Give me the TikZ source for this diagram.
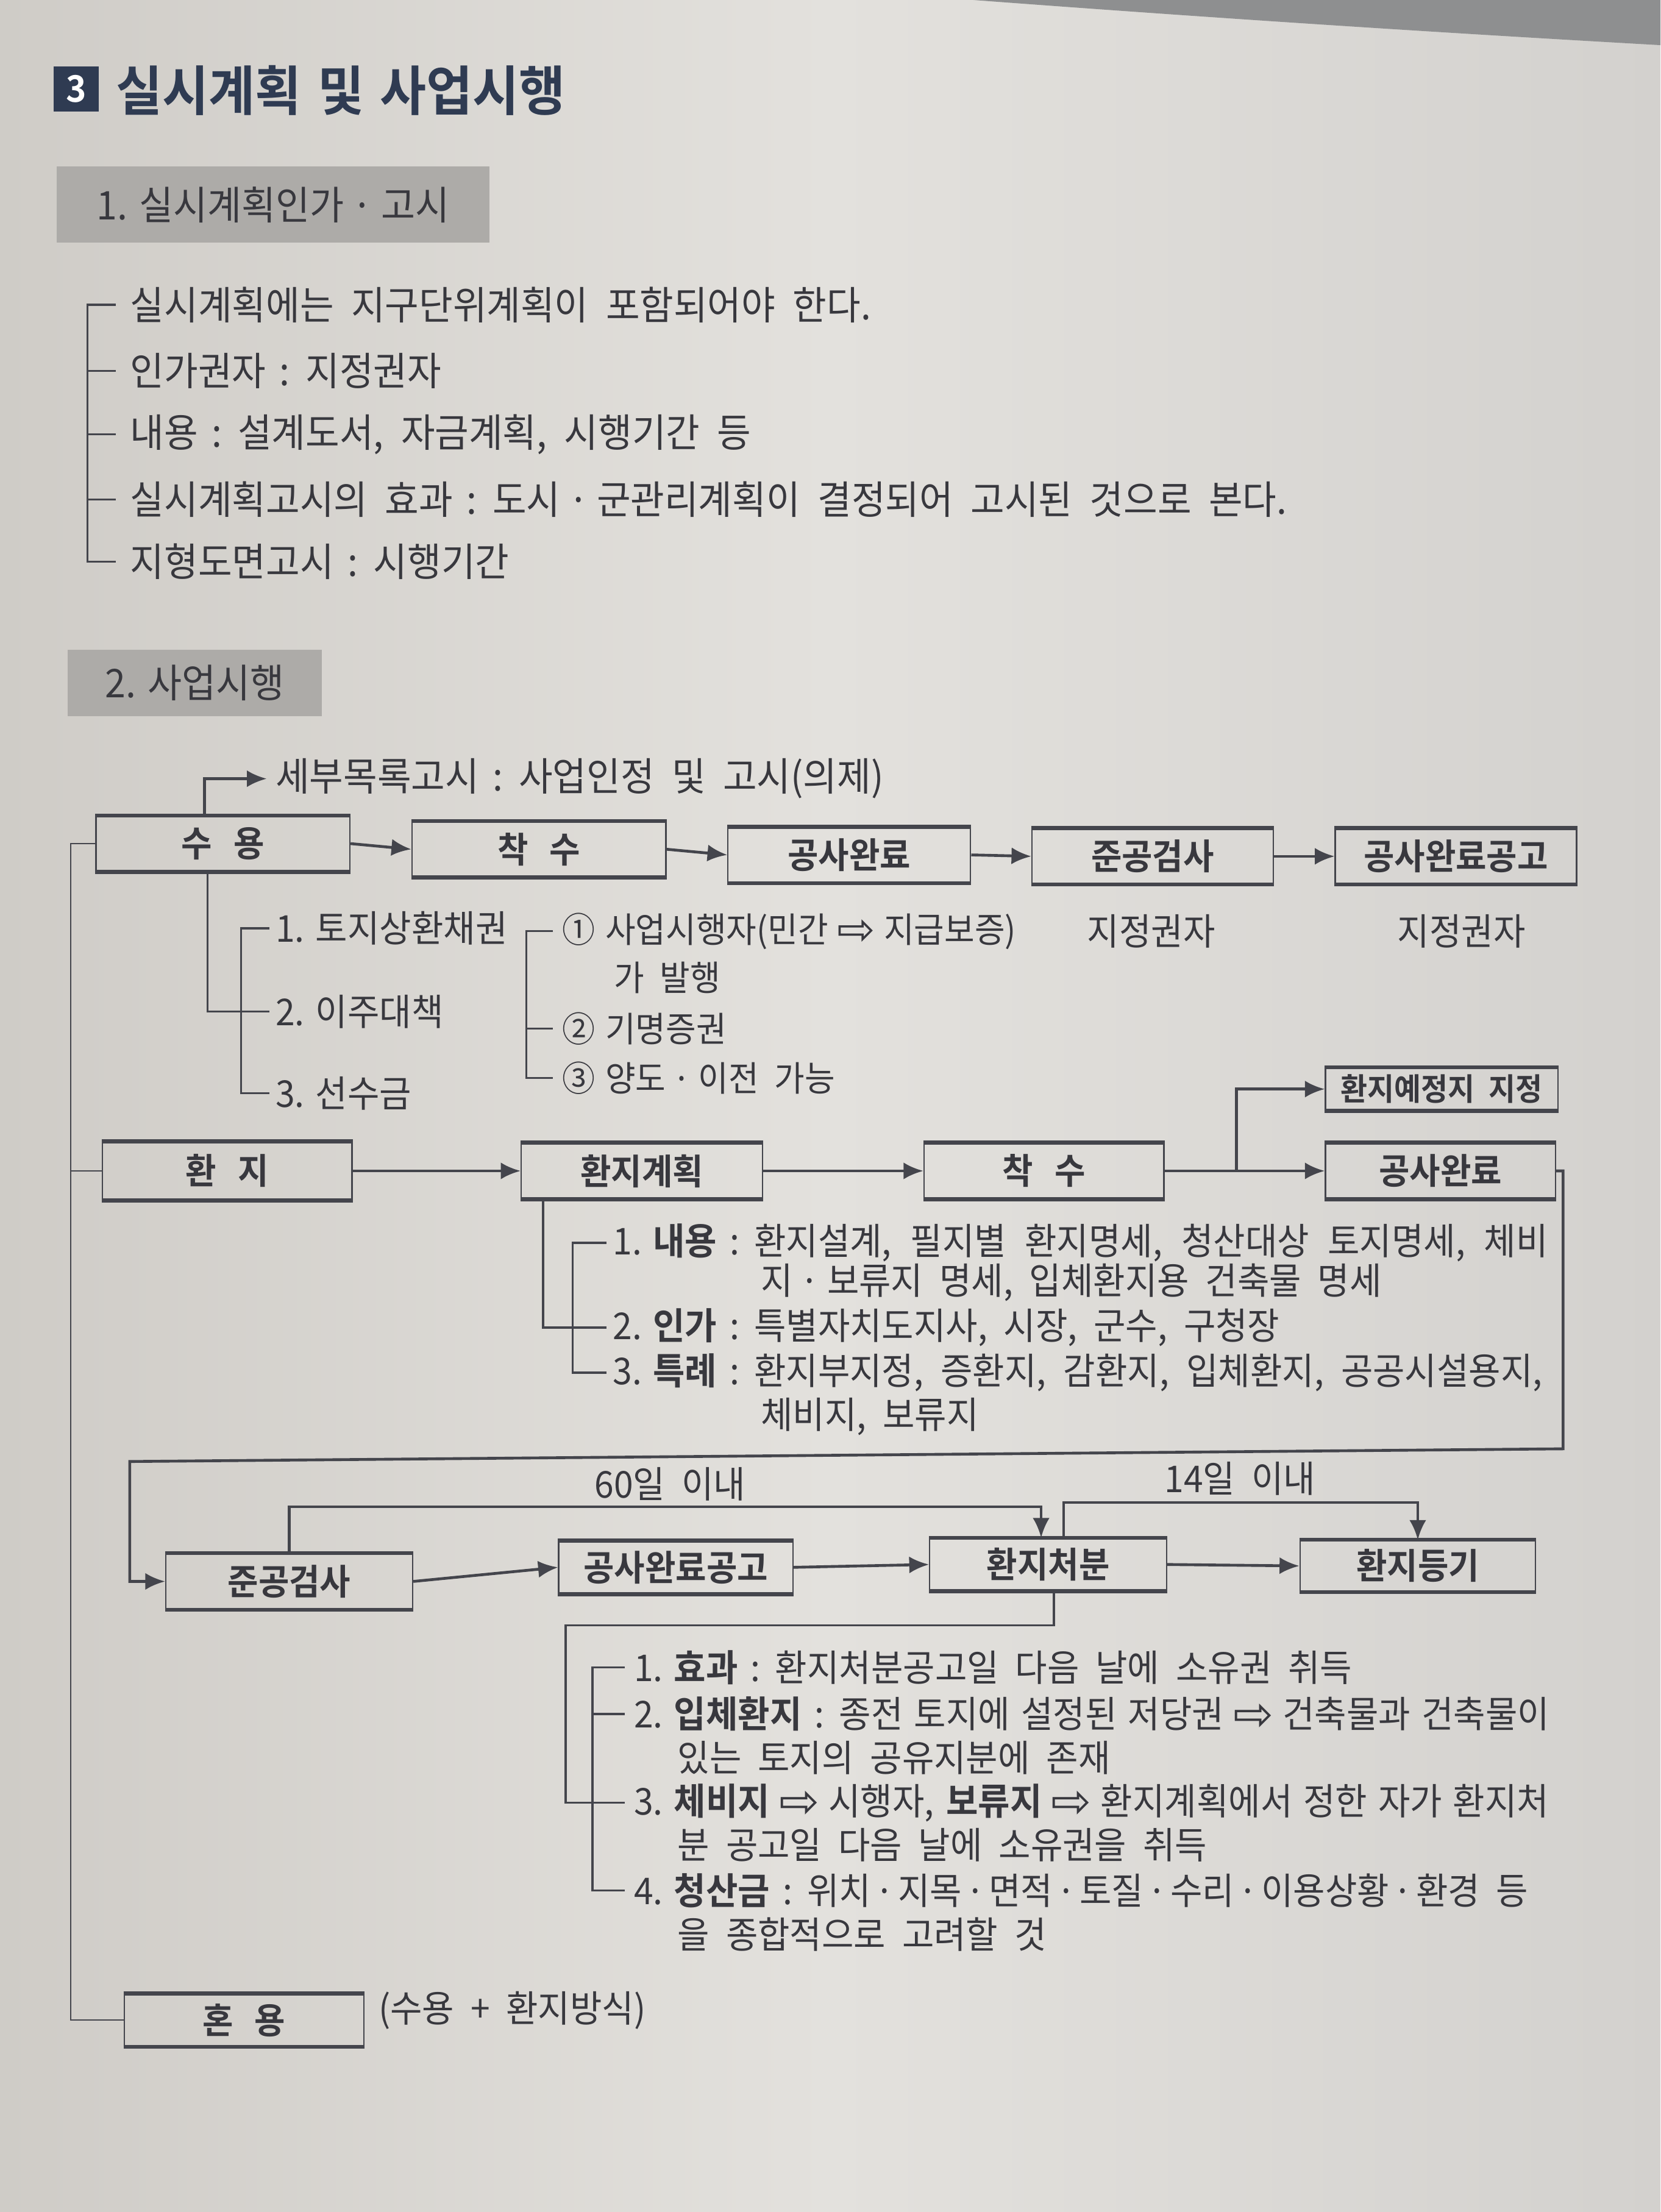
\documentclass[tikz,border=0pt]{standalone}
\usepackage{fontspec}
\setmainfont{Noto Sans CJK KR}[FakeStretch=0.94,WordSpace=2.1,BoldFont={* Bold}]
\newfontfamily\dv{DejaVu Sans}
\usetikzlibrary{arrows.meta,calc}
\definecolor{ink}{HTML}{38383E}
\definecolor{linec}{HTML}{44454C}
\definecolor{bgl}{HTML}{CFCCC7}
\definecolor{bgm}{HTML}{E3E1DD}
\definecolor{bgr}{HTML}{D3D1CE}
\definecolor{hdr}{HTML}{ADABA8}
\definecolor{navy}{HTML}{2F3B52}
\definecolor{curl}{HTML}{8E8F90}
\newcommand{\ra}{\hspace{0.25em}\raisebox{-0.08em}{\scalebox{1.3}{\dv ⇨}}\hspace{0.25em}}
\newcommand{\cln}{\hspace{0.35em}:\hspace{0.4em}}
\newcommand{\md}{\hspace{0.2em}·\hspace{0.2em}}
\newcommand{\mdn}{\hspace{0.1em}·\hspace{0.1em}}
\newcommand{\nm}[1]{#1.\hspace{0.3em}}
\newcommand{\jl}[2]{\makebox[#1][s]{#2}}
\begin{document}
\begin{tikzpicture}[x=0.5pt,y=-0.5pt,
  sec/.style={font=\fontsize{13.9pt}{15pt}\selectfont, anchor=west, inner sep=0pt, text=ink},
  body/.style={font=\fontsize{13.1pt}{14pt}\selectfont},
  small/.style={font=\fontsize{12.4pt}{14pt}\selectfont},
  txt/.style={body, anchor=west, inner sep=0pt, text=ink},
  ctr/.style={body, inner sep=0pt, text=ink},
  fbox/.style={draw=linec, line width=0.5pt, minimum height=19.5pt, inner sep=0pt, text=ink,
    font=\fontsize{12.6pt}{14pt}\selectfont\bfseries,
    append after command={(\tikzlastnode.north west) edge[draw=linec, line width=1.4pt] (\tikzlastnode.north east)
      (\tikzlastnode.south west) edge[draw=linec, line width=1.4pt] (\tikzlastnode.south east)}},
  conn/.style={draw=linec, line width=0.7pt},
  thin/.style={draw=linec, line width=0.5pt},
  arr/.style={draw=linec, line width=1pt, -{Latex[length=7pt,width=6pt]}},
  hdrbox/.style={fill=hdr, inner sep=0pt, text=ink, font=\fontsize{14pt}{16pt}\selectfont},
]
\useasboundingbox (0,0) rectangle (1177,1568);
\shade[left color=bgl, right color=bgr, middle color=bgm] (0,0) rectangle (1177,1568);
\fill[curl] (690,0) .. controls (850,12) and (1000,22) .. (1177,32) -- (1177,0) -- cycle;

% title
\node[fill=navy, minimum size=16pt, inner sep=0pt, text=white, font=\fontsize{13pt}{13pt}\selectfont\bfseries] (tnum) at (54,63) {3};
\node[anchor=west, inner sep=0pt, text=navy, font=\fontsize{19pt}{20pt}\selectfont\bfseries] (title) at (82,64) {실시계획\hspace{0.3em}및\hspace{0.3em}사업시행};

% section 1
\node[hdrbox, minimum width=153.5pt, minimum height=27pt] (h1) at (193.5,145) {\nm{1}실시계획인가\md 고시};
\node[sec] (s1) at (92,216) {실시계획에는 지구단위계획이 포함되어야 한다.};
\node[sec] (s2) at (92,263) {인가권자\cln 지정권자};
\node[sec] (s3) at (92,308) {내용\cln 설계도서, 자금계획, 시행기간 등};
\node[sec] (s4) at (92,354) {실시계획고시의 효과\cln 도시\md 군관리계획이 결정되어 고시된 것으로 본다.};
\node[sec] (s5) at (92,398) {지형도면고시\cln 시행기간};
\coordinate (B0) at (62,0);
\draw[conn] ([xshift=-5pt]s1.west) -- (s1.west -| B0) -- (s5.west -| B0) -- ([xshift=-5pt]s5.west);
\foreach \n in {s2,s3,s4} \draw[conn] (\n.west -| B0) -- ([xshift=-5pt]\n.west);

% section 2
\node[hdrbox, minimum width=90pt, minimum height=23.5pt] (h2) at (138,484) {\nm{2}사업시행};

% row 1
\node[fbox, minimum width=90pt] (su) at (158,598) {수\hspace{0.6em}용};
\node[fbox, minimum width=90pt] (ch1) at (382,602) {착\hspace{0.6em}수};
\node[fbox, minimum width=86pt] (gw1) at (602,606) {공사완료};
\node[fbox, minimum width=85.5pt] (jg1) at (817,607) {준공검사};
\node[fbox, minimum width=85.5pt] (gg1) at (1032,607) {공사완료공고};
\draw[arr] (su.east) -- (ch1.west);
\draw[arr] (ch1.east) -- (gw1.west);
\draw[arr] (gw1.east) -- (jg1.west);
\draw[arr] (jg1.east) -- (gg1.west);

\node[sec] (sebu) at (195,552) {세부목록고시\cln 사업인정 및 고시(의제)};
\draw[arr] ([xshift=-6.5pt]su.north) |- ([xshift=-3pt]sebu.west);

\node[ctr] (jj1) at (816,660) {지정권자};
\node[ctr] (jj2) at (1036,660) {지정권자};

\node[txt] (t1) at (195,658) {\nm{1}토지상환채권};
\node[txt] (t2) at (195,717) {\nm{2}이주대책};
\node[txt] (t3) at (195,775) {\nm{3}선수금};
\coordinate (B1) at (171,0);
\draw[conn] ([xshift=-2pt]t1.west) -- (t1.west -| B1) -- (t3.west -| B1) -- ([xshift=-2pt]t3.west);
\draw[conn] ([xshift=-5.5pt]su.south) |- ([xshift=-2pt]t2.west);

\node[txt, small] (c1) at (398,660) {①\hspace{0.3em}사업시행자(민간\ra 지급보증)};
\node[txt, small] (c1b) at (435,693) {가 발행};
\node[txt, small] (c2) at (398,729) {②\hspace{0.3em}기명증권};
\node[txt, small] (c3) at (398,764) {③\hspace{0.3em}양도\md 이전 가능};
\coordinate (B2) at (373,0);
\draw[conn] ([xshift=-3pt]c1.west) -- (c1.west -| B2) -- (c3.west -| B2) -- ([xshift=-3pt]c3.west);
\draw[conn] (c2.west -| B2) -- ([xshift=-3pt]c2.west);

% row 2
\node[fbox, minimum width=88.5pt, minimum height=20.5pt] (hw) at (161,830) {환\hspace{0.6em}지};
\node[fbox, minimum width=85.5pt] (hk) at (455,830) {환지계획};
\node[fbox, minimum width=85pt] (ch2) at (740,830) {착\hspace{0.6em}수};
\node[fbox, minimum width=81.5pt] (gw2) at (1021,830) {공사완료};
\node[fbox, minimum width=82.5pt, minimum height=15pt, font=\fontsize{11pt}{12pt}\selectfont\bfseries] (yj) at (1022,772) {환지예정지 지정};
\draw[arr] (hw.east) -- (hk.west);
\draw[arr] (hk.east) -- (ch2.west);
\draw[arr] (ch2.east) -- (gw2.west);
\draw[arr] ($(ch2.east)!0.45!(gw2.west)$) |- (yj.west);

\node[txt] (d1) at (434,881) {\jl{331.5pt}{\nm{1}\textbf{내용}\cln 환지설계, 필지별 환지명세, 청산대상 토지명세, 체비}};
\node[txt] (d1b) at (539,909) {지\md 보류지 명세, 입체환지용 건축물 명세};
\node[txt] (d2) at (434,941) {\nm{2}\textbf{인가}\cln 특별자치도지사, 시장, 군수, 구청장};
\node[txt] (d3) at (434,973) {\jl{329.5pt}{\nm{3}\textbf{특례}\cln 환지부지정, 증환지, 감환지, 입체환지, 공공시설용지,}};
\node[txt] (d3b) at (539,1004) {체비지, 보류지};
\coordinate (B3) at (406,0);
\draw[conn] ([xshift=-2pt]d1.west) -- (d1.west -| B3) -- (d3.west -| B3) -- ([xshift=-2pt]d3.west);
\draw[conn] ([xshift=-35pt]hk.south) |- ([xshift=-2pt]d2.west);

% row 3
\node[fbox, minimum width=87.5pt] (jg2) at (205,1121) {준공검사};
\node[fbox, minimum width=83pt, minimum height=18.5pt] (gk2) at (479,1111) {공사완료공고};
\node[fbox, minimum width=84pt, minimum height=18.5pt] (hc) at (743,1109) {환지처분};
\node[fbox, minimum width=83.5pt, minimum height=18pt] (hd) at (1005,1110) {환지등기};
\draw[arr] (jg2.east) -- (gk2.west);
\draw[arr] (gk2.east) -- (hc.west);
\draw[arr] (hc.east) -- (hd.west);

\coordinate (R1) at (1108,1027);
\coordinate (R2) at (92,1036);
\draw[arr] (gw2.east) -| (R1) -- (R2) |- (jg2.west);

\draw[arr] (jg2.north) |- ([xshift=-2.5pt,yshift=11pt]hc.north) -- ([xshift=-2.5pt]hc.north);
\node[ctr] (d60) at (475,1052) {60일 이내};
\draw[arr] ([xshift=5.5pt]hc.north) -- ++(0,-25) -| (hd.north);
\node[ctr] (d14) at (879,1048) {14일 이내};

\node[txt] (e1) at (449,1182) {\nm{1}\textbf{효과}\cln 환지처분공고일 다음 날에 소유권 취득};
\node[txt] (e2) at (449,1215) {\jl{324.5pt}{\nm{2}\textbf{입체환지}\cln 종전 토지에 설정된 저당권\ra 건축물과 건축물이}};
\node[txt] (e2b) at (480,1246) {있는 토지의 공유지분에 존재};
\node[txt] (e3) at (449,1278) {\jl{324pt}{\nm{3}\textbf{체비지}\ra 시행자, \textbf{보류지}\ra 환지계획에서 정한 자가 환지처}};
\node[txt] (e3b) at (480,1308) {분 공고일 다음 날에 소유권을 취득};
\node[txt] (e4) at (449,1340) {\nm{4}\textbf{청산금}\cln 위치\mdn 지목\mdn 면적\mdn 토질\mdn 수리\mdn 이용상황\mdn 환경 등};
\node[txt] (e4b) at (480,1371) {을 종합적으로 고려할 것};
\coordinate (B4) at (420,0);
\draw[conn] ([xshift=-3pt]e1.west) -- (e1.west -| B4) -- (e4.west -| B4) -- ([xshift=-3pt]e4.west);
\draw[conn] (e2.west -| B4) -- ([xshift=-3pt]e2.west);
\coordinate (T1) at (401,1152);
\draw[conn] ([xshift=2pt]hc.south) |- (T1) |- ([xshift=-3pt]e3.west);

% mixed
\node[fbox, minimum width=85pt, minimum height=18.5pt] (hy) at (173,1432) {혼\hspace{0.6em}용};
\node[txt] (hyt) at (268,1425) {(수용 + 환지방식)};

% left spine
\coordinate (L) at (50,0);
\draw[thin] (su.west) -| (L |- hy.west) -- (hy.west);
\draw[thin] (L |- hw.west) -- (hw.west);
\end{tikzpicture}
\end{document}
